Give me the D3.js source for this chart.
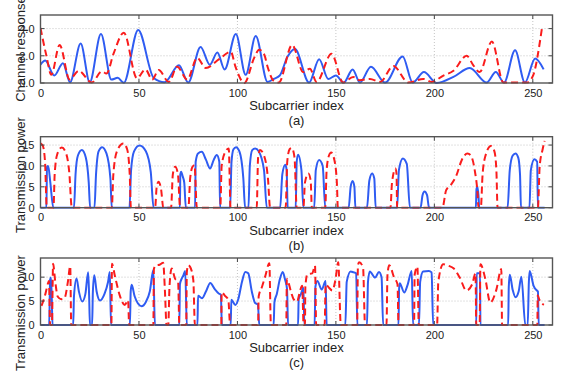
<!DOCTYPE html>
<html><head><meta charset="utf-8">
<script src="https://cdn.jsdelivr.net/npm/d3@7/dist/d3.min.js"></script>
<style>body{margin:0;background:#fff}svg{display:block}text{font-family:"Liberation Sans",Arial,Helvetica,sans-serif;fill:#222}</style>
</head><body>
<svg id="chart" width="568" height="382"></svg>
<script>
// ---------- data ----------
const xTicks = [0, 50, 100, 150, 200, 250];
const xLabel = "Subcarrier index";
const panelTags = ["(a)", "(b)", "(c)"];
const yLabels = ["Channel response", "Transmission power", "Transmission power"];
const aYTicks = [0, 2, 4];
const bYTicks = [0, 5, 10, 15];
const cYTicks = [0, 5, 10];

const aBlue = [[0,1.35],[2.4,1.65],[7,0.55],[11.4,1.45],[15,0.05],[20.4,2.9],[25,0.05],[30.7,3.6],[36,0.25],[39.2,0.38],[42.3,0.02],[49.6,3.9],[57.5,0.37],[63,0.06],[70.3,1.3],[75,0.03],[81.3,2.65],[86,1.35],[89.8,2.25],[93.5,1.0],[99.2,3.6],[104.2,0.6],[109.3,3.45],[115.3,0.08],[118.5,0.3],[121.5,0.55],[125.5,1.95],[129.2,2.5],[136.4,0.03],[141.5,1.75],[146.1,0.3],[150,0.55],[154,0.03],[158.5,1.0],[162.2,0.03],[167.8,1.2],[175,0.03],[183.9,1.95],[189,0.03],[194.7,0.8],[201.2,0.0],[209.7,0.45],[218,1.1],[226.6,0.03],[231.2,0.8],[235.4,0.03],[241,2.4],[246,0.03],[251.2,1.8],[255.5,1.0]];
const aRed = [[0,4.05],[3,2.0],[5.5,0.6],[9.7,2.8],[14.8,0.25],[19.4,0.9],[26,0.03],[31.2,0.85],[33.5,0.7],[37.2,2.2],[42.3,3.7],[49,0.35],[53.3,1.0],[56.7,0.25],[60,0.95],[65.2,0.08],[69.4,1.2],[74.5,0.25],[79.6,1.85],[83.9,1.1],[90.7,1.75],[96.6,2.3],[99,1.2],[103.5,0.0],[108.5,1.85],[111,2.45],[113.6,2.1],[115.3,1.2],[118.5,0.15],[121,0.03],[127.8,2.8],[133.4,0.8],[136.8,1.05],[140.2,0.08],[147.8,2.15],[153.7,0.03],[158.8,0.45],[162,0.2],[167.3,0.3],[172.4,0.08],[179.2,1.25],[186.8,0.03],[194.4,0.3],[198.6,0.08],[204.6,0.55],[209.7,0.9],[216.4,2.0],[219.8,1.3],[223,0.8],[229.2,3.05],[235.1,0.03],[247,0.03],[250,0.5],[254.6,4.0]];

const bBlue = [[0,0],[3.0,0],[3.3,9.8],[3.9,10],[5,6],[6.5,0],[17,0],[17.8,8],[19,12.5],[21,13.8],[23,12],[24.5,6],[25.2,0],[27.4,0],[28.2,8],[29.5,13.5],[31.3,14.5],[33.5,13],[35.5,7],[36.2,0],[45.2,0],[46,9],[47.5,13.5],[50.3,14.9],[53.5,13.5],[56,8.5],[57.4,0],[70.8,0],[71.0,8.0],[71.4,8.6],[72.2,7.5],[73,6],[73.8,0],[78.5,0],[78.8,11],[80,13],[81.9,13.4],[84,11.5],[86.1,9.4],[88,11.5],[89.5,12.6],[90.8,11],[91.2,0],[96.3,0],[97,11],[98,14],[99.3,14.5],[101,13.5],[103,7],[103.9,0],[105.6,0],[106.3,10],[107.5,13.8],[109,14.2],[110.8,13.5],[113.5,9],[114.9,0],[121.7,0],[122.8,8],[124.3,10.3],[125,9],[125.5,0],[129.6,0],[130.1,11],[130.8,12.7],[132.5,9],[133.5,0],[139,0],[139.8,9],[141.5,11.4],[143.3,10],[144.6,0],[156.5,0],[157.5,5],[158.5,6.4],[159.4,5],[159.9,0],[165.8,0],[167,6.5],[168.4,8.2],[169.5,7],[170.2,0],[181.1,0],[182,9],[184,11.8],[186,10.5],[187.6,0],[193,0],[194,3],[195,3.9],[196.3,3],[197.3,0],[221.1,0],[221.4,4.5],[221.8,5],[222.4,3],[222.8,0],[237.2,0],[238.3,9],[239.8,12.5],[241.2,13],[242.6,12],[243.5,8],[244,0],[248.3,0],[249,9],[250.8,11.6],[252.2,11],[252.6,0],[256,0]];
const bRed = [[0,15.4],[1.2,14.8],[2.3,11],[3.2,0],[6.6,0],[7.2,8],[8.5,12.8],[10.8,14.4],[13,13],[14.6,8.5],[15.9,0],[36.2,0],[37,8],[38.8,13.5],[42.1,15.4],[44,14],[45.3,8],[45.9,0],[58.2,0],[59,5],[59.9,6.2],[61.2,4.5],[62.4,0],[66.3,0],[67.2,8],[68.4,9.8],[69.8,8],[70.9,0],[75.1,0],[76,7],[77.2,9.8],[78.2,10.2],[79.4,0],[91.3,0],[92,10],[94,13.5],[95.6,14.2],[96.5,0],[109.8,0],[110.5,12],[111.5,13.8],[113.5,12.5],[115.5,7],[116.6,0],[124.5,0],[125.3,11],[126.5,14],[127.6,14.3],[129,12],[130.1,0],[133.5,0],[134.3,6],[136,8.2],[137.2,6.5],[137.8,0],[144.6,0],[145.3,9],[146.5,12.5],[147.6,13.2],[149.2,11.5],[150.5,6],[151,0],[177.7,0],[178.5,6],[180.3,9.4],[180.8,8],[181.1,0],[204.1,0],[206,4.2],[208.3,5.4],[211,7.5],[214,11.5],[216.8,13],[218.5,12.5],[220.5,9],[222,3],[222.4,0],[223.6,0],[224.5,8],[226,12.5],[228.7,14.8],[230.5,13.5],[231.5,9],[232.1,0],[252.6,0],[253.5,10],[255,14],[256,16]];

const cBlue = [[0,0],[4.4,0],[4.9,9.5],[5.3,9.9],[5.7,6],[6.1,0],[16.6,0],[17,6],[18.3,9.7],[19.5,7],[21.2,4.9],[22.8,6.5],[24.2,11],[24.7,6],[25.1,0],[26.2,0],[26.6,7],[27.3,10.4],[28.5,7],[30.2,5.1],[32.5,6.5],[34.3,9],[35.2,11.1],[35.8,0],[45.4,0],[45.8,7],[46.3,8.4],[47.8,6],[49.5,4.5],[51.3,3.9],[53.5,4.8],[55.5,7],[57.3,11.5],[58.1,0],[70.5,0],[70.8,8.5],[71.6,9.6],[72.5,10.3],[73.5,11.3],[74.3,0],[79.7,0],[80,6.1],[82,5.6],[84,7],[86.2,8.8],[88.5,7.5],[90.5,6.6],[91.6,6.3],[92.1,0],[96.6,0],[96.9,5.3],[98.9,4.2],[100.5,5.5],[102.3,9],[104,11.1],[105.5,10.8],[107.3,7],[109,4.6],[110.4,4.3],[111.1,0],[118.4,0],[118.8,4.8],[120,6.5],[121.5,9.5],[123,11.1],[124.2,9.5],[125.2,7.5],[125.7,0],[130.8,0],[131.1,5.4],[132.3,6.5],[133.5,7.8],[134,0],[139.2,0],[139.6,8],[140.6,9.2],[142.8,7.4],[144.8,9.2],[145.3,0],[154.8,0],[155.5,9],[157.5,11.2],[159,11],[160.3,10.8],[160.9,0],[165.8,0],[166.3,9],[167.2,11.2],[169.9,9.9],[171.9,11.1],[173.2,10],[174,0],[181.8,0],[182.1,7.5],[182.4,8.75],[184.7,6.8],[186.5,8.5],[188.5,11.3],[189.2,0],[192.2,0],[192.8,9],[194.3,11.2],[197.2,11.3],[198.6,11],[199.4,0],[221.3,0],[221.5,10.8],[223.2,10.8],[223.4,0],[237.5,0],[237.8,8],[238.3,10.5],[239.8,7.3],[241.2,5.8],[242.8,7],[244.2,10.1],[246.2,0],[247.4,0],[248,9],[248.4,11.3],[250.4,8.2],[252.1,7.2],[252.6,7],[253,0],[256,0]];
const cRed = [[0.5,4],[2.5,6.5],[3.8,8.7],[4.3,9.2],[4.9,0],[5.8,0],[6.4,12.8],[7.5,9],[8.8,5.9],[10.5,5.4],[12.2,5.6],[13.9,9],[15.1,12.3],[15.6,0],[36,0],[36.3,12.8],[37.7,10.4],[40.2,6.25],[42.8,4.2],[44.5,5.2],[45,0],[57.3,0],[57.6,11.8],[58.9,12.5],[60.5,12.6],[62.3,13],[63.2,7],[64,0],[64.9,0],[65.5,8],[66.6,11.8],[68.3,9.7],[69.9,9],[70.5,0],[74,0],[74.3,11],[75,12.5],[75.9,12.2],[77.6,9.4],[78.4,0],[91.8,0],[92,6.8],[93.7,6.1],[95.4,5.2],[96.3,0],[110.5,0],[110.8,6],[112.5,8],[114.2,10.3],[116.2,12.9],[117,0],[124.8,0],[125.1,9.6],[127.3,6.8],[128.5,5.4],[130.4,4.9],[131.3,6.3],[132.9,8.2],[133.6,0],[134.3,0],[134.5,8],[135.5,10.6],[138,10.8],[139.4,12.4],[140,0],[144.3,0],[144.8,8.5],[146.5,7.8],[148.2,7.2],[149.8,9.5],[151.2,13.1],[152.5,0],[160.8,0],[161.2,12.5],[161.8,13.1],[163.8,12],[164.8,0],[175.7,0],[176.2,10.5],[177.1,12.5],[179.6,9.9],[181.3,8.5],[181.8,0],[189.7,0],[190,10.5],[191.4,12.2],[192.1,0],[201.4,0],[202,9],[204.5,12.7],[207,12.4],[209.9,11.8],[212.9,9.9],[216.3,7.2],[219.2,8.5],[220.9,10.8],[221.3,0],[223,0],[223.4,12.7],[225.9,9.6],[228.4,4.7],[231.5,7.4],[234,11.7],[234.4,0],[252.3,0],[252.5,6.2],[253.1,5.5],[255.6,4.2]];

// ---------- drawing ----------
const svg = d3.select("#chart");
const L = 40.5, R = 552.5;
const panels = [
  {top: 15,    bottom: 83,    ymax: 5,  ticks: aYTicks, blue: aBlue, red: aRed, labelY: 49},
  {top: 136.7, bottom: 207.7, ymax: 17, ticks: bYTicks, blue: bBlue, red: bRed, labelY: 175},
  {top: 258,   bottom: 325,   ymax: 14, ticks: cYTicks, blue: cBlue, red: cRed, labelY: 313}
];
const x = d3.scaleLinear().domain([0, 260]).range([L, R]);
const BLUE = "#2f5cf2", RED = "#fa1c1c";

panels.forEach((p, i) => {
  const y = d3.scaleLinear().domain([0, p.ymax]).range([p.bottom, p.top]);
  const g = svg.append("g");
  // grid
  g.selectAll(".gx").data(xTicks.filter(t => t > 0)).join("line")
    .attr("x1", d => x(d)).attr("x2", d => x(d)).attr("y1", p.top).attr("y2", p.bottom)
    .attr("stroke", "#b5b5b5").attr("stroke-width", 0.8).attr("stroke-dasharray", "1,2");
  g.selectAll(".gy").data(p.ticks.filter(t => t > 0)).join("line")
    .attr("x1", L).attr("x2", R).attr("y1", d => y(d)).attr("y2", d => y(d))
    .attr("stroke", "#b5b5b5").attr("stroke-width", 0.8).attr("stroke-dasharray", "1,2");

  const clipId = "clip" + i;
  svg.append("clipPath").attr("id", clipId).append("rect")
    .attr("x", L).attr("y", p.top - 2).attr("width", R - L).attr("height", p.bottom - p.top + 3);

  const line = d3.line().x(d => x(d[0])).y(d => y(d[1])).curve(d3.curveMonotoneX);
  const lg = g.append("g").attr("clip-path", `url(#${clipId})`);
  lg.append("path").attr("d", line(p.blue)).attr("fill", "none")
    .attr("stroke", BLUE).attr("stroke-width", 2).attr("stroke-linejoin", "round");
  lg.append("path").attr("d", line(p.red)).attr("fill", "none")
    .attr("stroke", RED).attr("stroke-width", 2).attr("stroke-dasharray", "7,4");

  // axes
  const ax = d3.axisBottom(x).tickValues(xTicks).tickSize(0).tickPadding(6);
  const axG = g.append("g").attr("transform", `translate(0,${p.bottom})`).call(ax);
  axG.select(".domain").remove();
  axG.selectAll("text").attr("fill", "#222").style("font-size", "11px")
    .style("font-family", '"Liberation Sans",Arial,sans-serif');
  const ay = d3.axisLeft(y).tickValues(p.ticks).tickSize(0).tickPadding(6);
  const ayG = g.append("g").attr("transform", `translate(${L},0)`).call(ay);
  ayG.select(".domain").remove();
  ayG.selectAll("text").attr("fill", "#222").style("font-size", "11px")
    .style("font-family", '"Liberation Sans",Arial,sans-serif');

  // tick marks inside
  xTicks.forEach(t => {
    g.append("line").attr("x1", x(t)).attr("x2", x(t)).attr("y1", p.bottom).attr("y2", p.bottom - 4).attr("stroke", "#444");
    g.append("line").attr("x1", x(t)).attr("x2", x(t)).attr("y1", p.top).attr("y2", p.top + 4).attr("stroke", "#444");
  });
  p.ticks.forEach(t => {
    g.append("line").attr("x1", L).attr("x2", L + 4).attr("y1", y(t)).attr("y2", y(t)).attr("stroke", "#444");
    g.append("line").attr("x1", R).attr("x2", R - 4).attr("y1", y(t)).attr("y2", y(t)).attr("stroke", "#444");
  });
  // box
  g.append("rect").attr("x", L).attr("y", p.top).attr("width", R - L).attr("height", p.bottom - p.top)
    .attr("fill", "none").attr("stroke", "#555").attr("stroke-width", 1.4);

  // labels
  g.append("text").attr("x", (L + R) / 2).attr("y", p.bottom + 27).attr("text-anchor", "middle")
    .style("font-size", "13px").text(xLabel);
  g.append("text").attr("x", (L + R) / 2).attr("y", p.bottom + 42).attr("text-anchor", "middle")
    .style("font-size", "13px").text(panelTags[i]);
  g.append("text").attr("transform", `translate(24.5,${p.labelY}) rotate(-90)`)
    .attr("text-anchor", "middle").style("font-size", "13px").text(yLabels[i]);
});
</script>
</body></html>
